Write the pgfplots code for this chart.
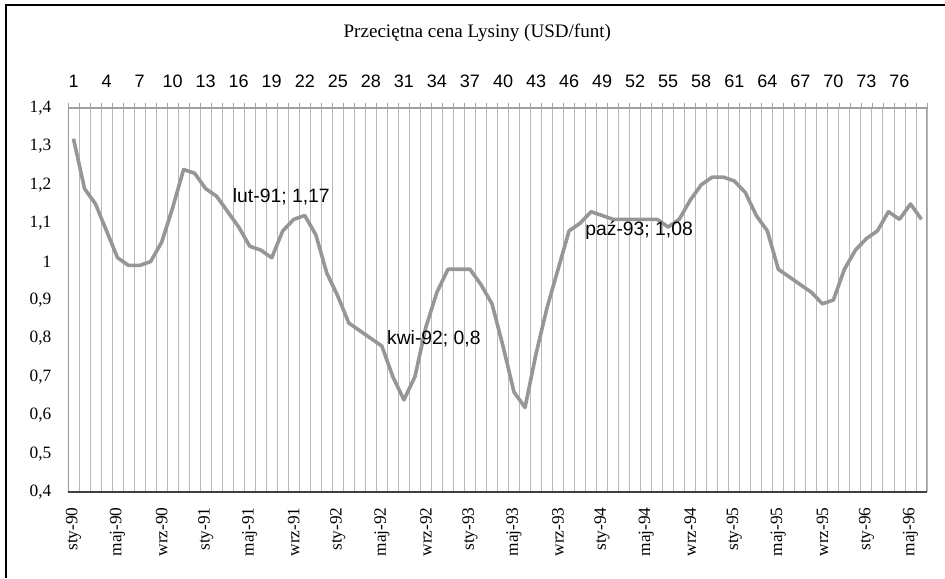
\documentclass[border=0pt]{standalone}
\usepackage{pgfplots}
\pgfplotsset{compat=1.18}
\usepackage{fontspec}
\setmainfont{Liberation Serif}
\newfontfamily\arial{Liberation Sans}
\definecolor{linegray}{RGB}{150,150,150}
\definecolor{gridgray}{RGB}{185,185,185}
\definecolor{framegray}{RGB}{160,160,160}

\pgfplotstableread{
x y
1 1.32
2 1.19
3 1.15
4 1.08
5 1.01
6 0.99
7 0.99
8 1.00
9 1.05
10 1.14
11 1.24
12 1.23
13 1.19
14 1.17
15 1.13
16 1.09
17 1.04
18 1.03
19 1.01
20 1.08
21 1.11
22 1.12
23 1.07
24 0.97
25 0.91
26 0.84
27 0.82
28 0.80
29 0.78
30 0.70
31 0.64
32 0.70
33 0.83
34 0.92
35 0.98
36 0.98
37 0.98
38 0.94
39 0.89
40 0.78
41 0.66
42 0.62
43 0.76
44 0.88
45 0.98
46 1.08
47 1.10
48 1.13
49 1.12
50 1.11
51 1.11
52 1.11
53 1.11
54 1.11
55 1.09
56 1.11
57 1.16
58 1.20
59 1.22
60 1.22
61 1.21
62 1.18
63 1.12
64 1.08
65 0.98
66 0.96
67 0.94
68 0.92
69 0.89
70 0.90
71 0.98
72 1.03
73 1.06
74 1.08
75 1.13
76 1.11
77 1.15
78 1.11
}\lysine

\begin{document}
\begin{tikzpicture}
\path[use as bounding box] (-51pt,-64.5pt) rectangle (657.75pt,369pt);
% frame of the chart area
\draw[black, line width=0.8pt] (-46.5pt,-64.5pt) -- (-46.5pt,365.25pt) -- (657.75pt,365.25pt);
\node[font=\fontsize{14.3}{16}\selectfont] at (307pt,344.25pt) {Przeciętna cena Lysiny (USD/funt)};

% top category axis
\begin{axis}[
  at={(0,0)}, anchor=south west,
  scale only axis, width=644.25pt, height=288pt,
  xmin=0.5, xmax=78.5, ymin=0.4, ymax=1.4,
  axis line style={draw=none},
  xtick={1,4,...,76},
  xtick pos=right, xticklabel pos=right,
  major tick length=0pt,
  minor xtick={0.5,1.5,...,78.5},
  minor tick length=4pt,
  tick align=outside,
  minor tick style={framegray, line width=0.6pt},
  ytick=\empty,
  xticklabel style={font=\arial\fontsize{13.5}{15}\selectfont},
  xticklabel shift=12pt,
  /pgf/number format/assume math mode=true,
]
\addplot[draw=none] coordinates {(1,1)};
\end{axis}

% main axis
\begin{axis}[
  at={(0,0)}, anchor=south west,
  scale only axis, width=644.25pt, height=288pt,
  xmin=0.5, xmax=78.5, ymin=0.4, ymax=1.4,
  axis line style={draw=none},
  xtick={1,5,...,77},
  xticklabels={sty-90,maj-90,wrz-90,sty-91,maj-91,wrz-91,sty-92,maj-92,wrz-92,sty-93,maj-93,wrz-93,sty-94,maj-94,wrz-94,sty-95,maj-95,wrz-95,sty-96,maj-96},
  xtick pos=left,
  major tick length=0pt,
  minor xtick={0.5,1.5,...,78.5},
  minor tick length=4pt,
  tick align=inside,
  minor tick style={gridgray, line width=0.7pt},
  minor x grid style={gridgray, line width=0.7pt},
  xminorgrids=true,
  ytick={0.4,0.5,0.6,0.7,0.8,0.9,1,1.1,1.2,1.3,1.4},
  ytick pos=left,
  yticklabel style={font=\fontsize{13}{15}\selectfont, /pgf/number format/.cd, fixed, precision=1, use comma},
  yticklabel shift=9pt,
  xticklabel style={rotate=90, anchor=east, font=\fontsize{13}{15}\selectfont},
  xticklabel shift=8pt,
  /pgf/number format/assume math mode=true,
]
\draw[framegray, line width=0.8pt] (rel axis cs:0,0) -- (rel axis cs:0,1) -- (rel axis cs:1,1) -- (rel axis cs:1,0);
\draw[black!75, line width=1pt] (rel axis cs:0,0) -- (rel axis cs:1,0);
\addplot[linegray, line width=2.7pt, line join=round, mark=none] table[x=x, y=y] {\lysine};
\node[anchor=west, inner sep=0pt, xshift=12pt, font=\arial\fontsize{14.5}{16}\selectfont] at (axis cs:14,1.17) {lut-91; 1,17};
\node[anchor=west, inner sep=0pt, xshift=12pt, font=\arial\fontsize{14.5}{16}\selectfont] at (axis cs:28,0.80) {kwi-92; 0,8};
\node[anchor=west, inner sep=0pt, xshift=12pt, font=\arial\fontsize{14.5}{16}\selectfont] at (axis cs:46,1.08) {paź-93; 1,08};
\end{axis}
\end{tikzpicture}
\end{document}
